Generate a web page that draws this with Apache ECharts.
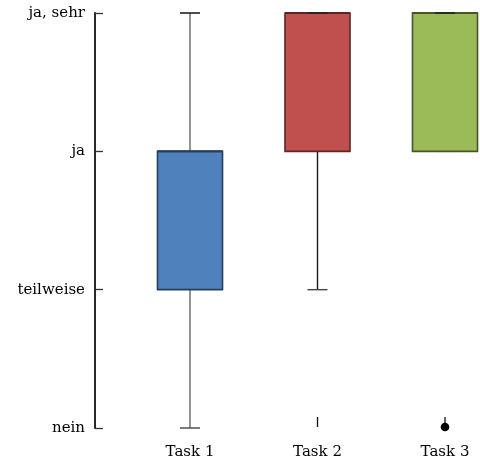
<!DOCTYPE html>
<html>
<head>
<meta charset="utf-8">
<script src="https://cdn.jsdelivr.net/npm/echarts@6/dist/echarts.min.js"></script>
<style>
  html, body { margin: 0; padding: 0; background: #fff; }
  #chart { width: 480px; height: 467px; }
</style>
</head>
<body>
<div id="chart"></div>
<script>
// Rating scale and tasks
const tasks = ['Task 1', 'Task 2', 'Task 3'];
const ratingLabels = ['nein', 'teilweise', 'ja', 'ja, sehr'];

// Five-number summaries per task: [min, Q1, median, Q3, max]
const task1Stats = [0, 1, 2, 2, 3];
const task2Stats = [1, 2, 3, 3, 3];
const task3Stats = [2, 2, 3, 3, 3];

// Outliers: task index and rating value
const outlierTask = [1, 2];
const outlierValue = [0, 0];

const fillColors = ['#4f81bd', '#c0504d', '#9bbb59'];
const edgeColors = ['#263f5e', '#5e2523', '#46562a'];
const whiskerColors = ['#666666', '#1a1a1a', '#1a1a1a'];
const labelFont = 'DejaVu Serif, Liberation Serif, serif';

const stats = [task1Stats, task2Stats, task3Stats];
const boxData = stats.map((s, i) => [i].concat(s));
const outlierData = outlierTask.map((t, i) => [t, outlierValue[i]]);

const chart = echarts.init(document.getElementById('chart'), null, { renderer: 'canvas' });

function renderBox(params, api) {
  const i = api.value(0);
  const vMin = api.value(1), q1 = api.value(2), med = api.value(3), q3 = api.value(4), vMax = api.value(5);
  const band = api.size([1, 0])[0];
  const half = band * 0.255;
  const cap = 10;
  const x = api.coord([i, 0])[0];
  const yMin = api.coord([i, vMin])[1];
  const yQ1 = api.coord([i, q1])[1];
  const yMed = api.coord([i, med])[1];
  const yQ3 = api.coord([i, q3])[1];
  const yMax = api.coord([i, vMax])[1];
  const wStyle = { stroke: whiskerColors[i], lineWidth: 1.4 };
  const capStyle = { stroke: '#444', lineWidth: 1.4 };
  const children = [];
  if (yMin !== yQ1) {
    children.push({ type: 'line', shape: { x1: x, y1: yQ1, x2: x, y2: yMin }, style: wStyle });
  }
  children.push({ type: 'line', shape: { x1: x - cap, y1: yMin, x2: x + cap, y2: yMin }, style: capStyle });
  if (yMax !== yQ3) {
    children.push({ type: 'line', shape: { x1: x, y1: yQ3, x2: x, y2: yMax }, style: wStyle });
  }
  children.push({
    type: 'rect',
    shape: { x: x - half, y: yQ3, width: half * 2, height: yQ1 - yQ3 },
    style: { fill: fillColors[i], stroke: edgeColors[i], lineWidth: 1.6 }
  });
  children.push({ type: 'line', shape: { x1: x - half, y1: yMed, x2: x + half, y2: yMed }, style: { stroke: edgeColors[i], lineWidth: 2 } });
  children.push({ type: 'line', shape: { x1: x - cap, y1: yMax, x2: x + cap, y2: yMax }, style: { stroke: '#222', lineWidth: 1.6 } });
  return { type: 'group', children: children };
}

function renderOutlier(params, api) {
  const i = api.value(0);
  const p = api.coord([i, api.value(1)]);
  const children = [
    { type: 'line', shape: { x1: p[0], y1: p[1] - 11, x2: p[0], y2: p[1] - 1 }, style: { stroke: '#111', lineWidth: 1.3 } }
  ];
  if (i === 2) {
    children.push({ type: 'circle', shape: { cx: p[0], cy: p[1] - 1, r: 4.3 }, style: { fill: '#000' } });
  }
  return { type: 'group', children: children };
}

chart.setOption({
  animation: false,
  backgroundColor: '#fff',
  grid: { left: 126.25, top: 13, width: 382.5, height: 415, containLabel: false, outerBoundsMode: 'none' },
  xAxis: {
    type: 'category',
    data: tasks,
    boundaryGap: true,
    axisLine: { show: false },
    axisTick: { show: false },
    axisLabel: { margin: 17, color: '#000', fontSize: 15, fontFamily: labelFont },
    splitLine: { show: false }
  },
  yAxis: {
    type: 'value',
    min: 0,
    max: 3,
    interval: 1,
    offset: 31.25,
    axisLine: { show: true, lineStyle: { color: '#111', width: 1.8 } },
    axisTick: { show: true, inside: true, length: 8, lineStyle: { color: '#333', width: 1.3 } },
    axisLabel: {
      margin: 10,
      color: '#000',
      fontSize: 15,
      fontFamily: labelFont,
      formatter: v => ratingLabels[v] || ''
    },
    splitLine: { show: false }
  },
  series: [
    { type: 'custom', renderItem: renderBox, data: boxData, clip: false, encode: { x: 0, y: [1, 2, 3, 4, 5] } },
    { type: 'custom', renderItem: renderOutlier, data: outlierData, clip: false, encode: { x: 0, y: 1 } }
  ]
});
</script>
</body>
</html>
